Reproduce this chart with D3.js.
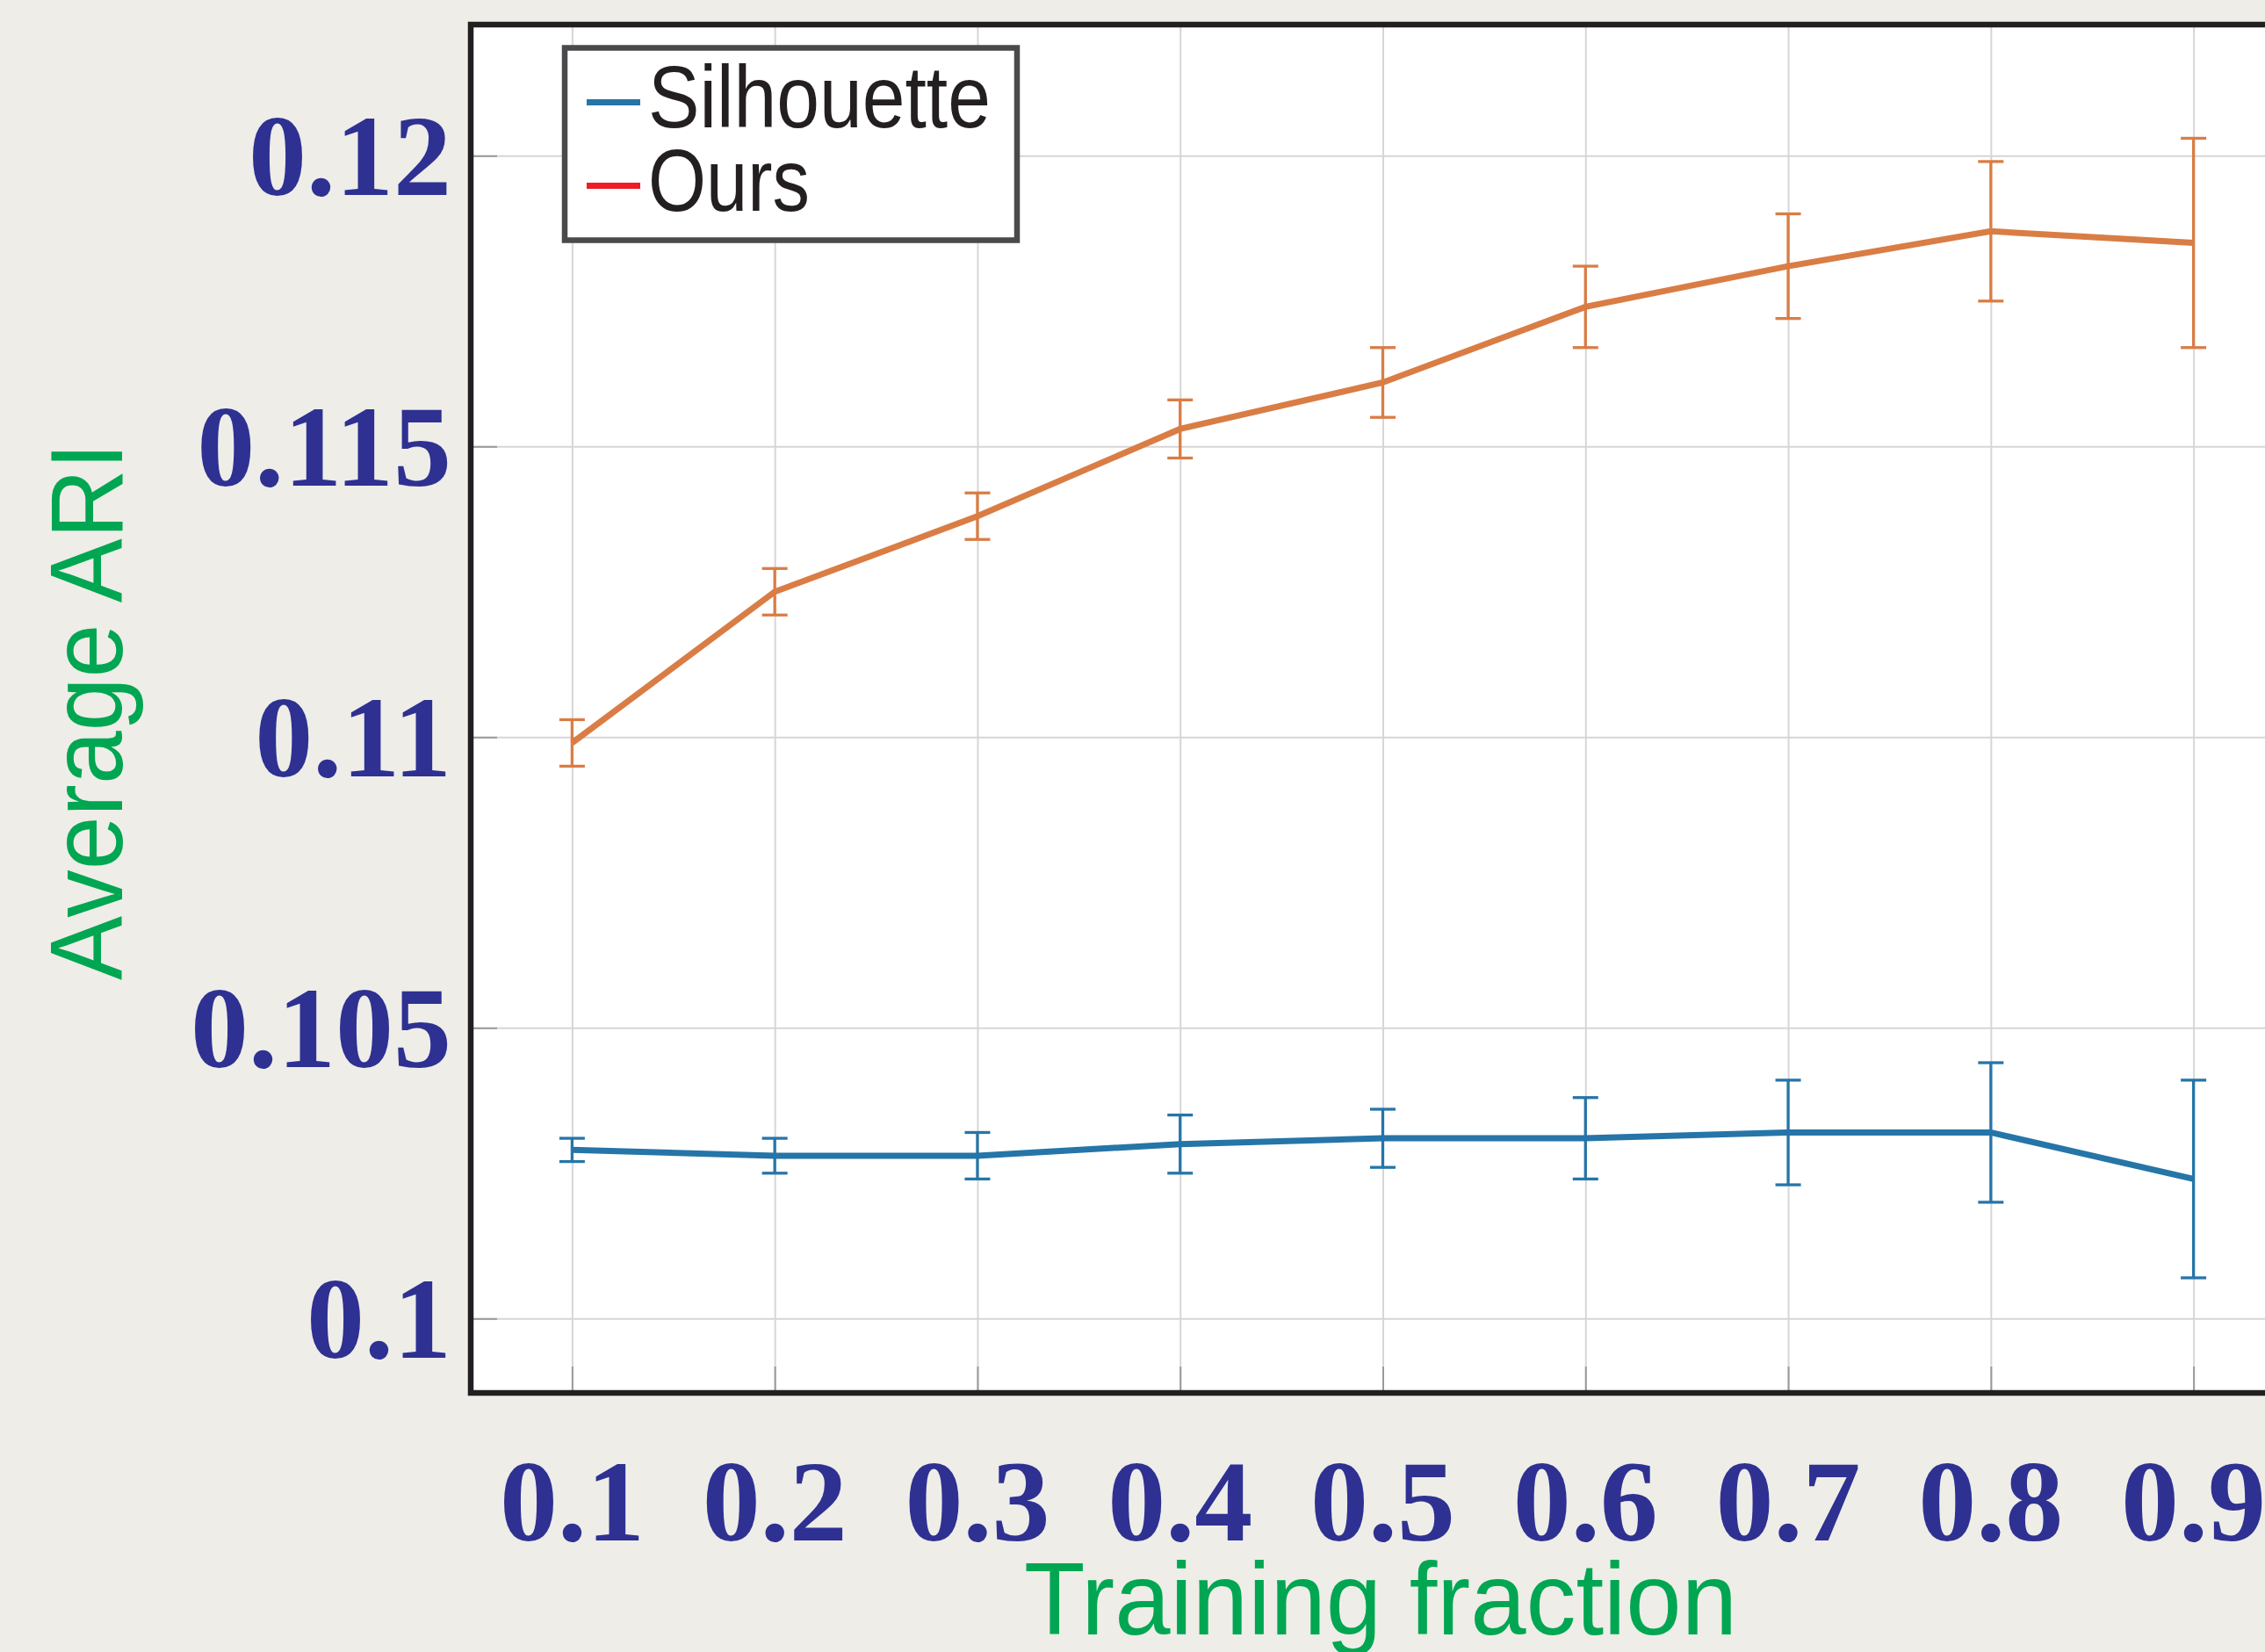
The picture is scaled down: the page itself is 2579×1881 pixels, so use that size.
<!DOCTYPE html>
<html>
<head>
<meta charset="utf-8">
<script src="https://cdn.jsdelivr.net/npm/d3@7"></script>
<style>
  body { margin: 0; background: #eeede8; }
  svg { display: block; }
</style>
</head>
<body>
<div id="chart"></div>
<script>
// data
var fractions = [0.1, 0.2, 0.3, 0.4, 0.5, 0.6, 0.7, 0.8, 0.9];
var silhouette = [0.1029, 0.1028, 0.1028, 0.1030, 0.1031, 0.1031, 0.1032, 0.1032, 0.1024];
var silhouetteErr = [0.0002, 0.0003, 0.0004, 0.0005, 0.0005, 0.0007, 0.0009, 0.0012, 0.0017];
var ours = [0.1099, 0.1125, 0.1138, 0.1153, 0.1161, 0.1174, 0.1181, 0.1187, 0.1185];
var oursErr = [0.0004, 0.0004, 0.0004, 0.0005, 0.0006, 0.0007, 0.0009, 0.0012, 0.0018];
var yTicks = [0.1, 0.105, 0.11, 0.115, 0.12];
var yTickLabels = ["0.1", "0.105", "0.11", "0.115", "0.12"];
var xTickLabels = ["0.1", "0.2", "0.3", "0.4", "0.5", "0.6", "0.7", "0.8", "0.9"];
var seriesNames = ["Silhouette", "Ours"];

// svg params
var svgWidth = 2579;
var svgHeight = 1881;

// plot box (right side runs off the page, like the original)
var plot = { left: 536, top: 28, right: 2640, bottom: 1586 };

var blue = "#2675a8";
var orange = "#d97d45";
var tickBlue = "#2e3192";
var labelGreen = "#00a651";

var svg = d3.select("#chart")
  .append("svg")
  .attr("width", svgWidth)
  .attr("height", svgHeight);

svg.append("rect")
  .attr("width", svgWidth)
  .attr("height", svgHeight)
  .attr("fill", "#eeede8");

// scales
var xScale = d3.scaleLinear()
  .domain([0.05, 0.95])
  .range([plot.left, plot.left + 2077]);

var yScale = d3.scaleLinear()
  .domain([0.1, 0.12])
  .range([1501.3, 177.3]);

// white plot area
svg.append("rect")
  .attr("x", plot.left)
  .attr("y", plot.top)
  .attr("width", plot.right - plot.left)
  .attr("height", plot.bottom - plot.top)
  .attr("fill", "#ffffff");

// grid
var yGrid = svg.append("g")
  .attr("transform", `translate(${plot.left}, 0)`)
  .call(d3.axisLeft(yScale).tickValues(yTicks).tickSize(-(plot.right - plot.left)).tickFormat(""));
var xGrid = svg.append("g")
  .attr("transform", `translate(0, ${plot.bottom})`)
  .call(d3.axisBottom(xScale).tickValues(fractions).tickSize(-(plot.bottom - plot.top)).tickFormat(""));
[yGrid, xGrid].forEach(g => {
  g.select(".domain").remove();
  g.selectAll(".tick line").attr("stroke", "#d6d6d6").attr("stroke-width", 2);
});

// short inner tick marks
var yTickG = svg.append("g")
  .attr("transform", `translate(${plot.left}, 0)`)
  .call(d3.axisLeft(yScale).tickValues(yTicks).tickSize(-30).tickFormat(""));
var xTickG = svg.append("g")
  .attr("transform", `translate(0, ${plot.bottom})`)
  .call(d3.axisBottom(xScale).tickValues(fractions).tickSize(-30).tickFormat(""));
[yTickG, xTickG].forEach(g => {
  g.select(".domain").remove();
  g.selectAll(".tick line").attr("stroke", "#9a9a9a").attr("stroke-width", 2);
});

// lines + error bars
var line = d3.line()
  .x(d => xScale(d.x))
  .y(d => yScale(d.y));

function drawSeries(vals, errs, color) {
  var data = fractions.map((f, i) => ({ x: f, y: vals[i], e: errs[i] }));

  svg.append("path")
    .datum(data)
    .attr("fill", "none")
    .attr("stroke", color)
    .attr("stroke-width", 7)
    .attr("d", line);

  var bars = svg.append("g").selectAll("g")
    .data(data).enter()
    .append("g")
    .attr("stroke", color)
    .attr("stroke-width", 3.3);

  bars.append("line")
    .attr("x1", d => xScale(d.x)).attr("x2", d => xScale(d.x))
    .attr("y1", d => yScale(d.y - d.e)).attr("y2", d => yScale(d.y + d.e));
  bars.append("line")
    .attr("x1", d => xScale(d.x) - 14.5).attr("x2", d => xScale(d.x) + 14.5)
    .attr("y1", d => yScale(d.y + d.e)).attr("y2", d => yScale(d.y + d.e));
  bars.append("line")
    .attr("x1", d => xScale(d.x) - 14.5).attr("x2", d => xScale(d.x) + 14.5)
    .attr("y1", d => yScale(d.y - d.e)).attr("y2", d => yScale(d.y - d.e));
}

drawSeries(silhouette, silhouetteErr, blue);
drawSeries(ours, oursErr, orange);

// frame
svg.append("rect")
  .attr("x", plot.left)
  .attr("y", plot.top)
  .attr("width", plot.right - plot.left)
  .attr("height", plot.bottom - plot.top)
  .attr("fill", "none")
  .attr("stroke", "#231f20")
  .attr("stroke-width", 6.5);

// tick labels
svg.append("g").selectAll("text")
  .data(yTicks).enter()
  .append("text")
  .attr("x", 514)
  .attr("y", d => yScale(d) + 45)
  .attr("text-anchor", "end")
  .attr("font-family", "'Liberation Serif', serif")
  .attr("font-weight", "bold")
  .attr("font-size", 132)
  .attr("fill", tickBlue)
  .text((d, i) => yTickLabels[i]);

svg.append("g").selectAll("text")
  .data(fractions).enter()
  .append("text")
  .attr("x", d => xScale(d))
  .attr("y", 1754)
  .attr("text-anchor", "middle")
  .attr("font-family", "'Liberation Serif', serif")
  .attr("font-weight", "bold")
  .attr("font-size", 132)
  .attr("fill", tickBlue)
  .text((d, i) => xTickLabels[i]);

// axis titles
svg.append("text")
  .attr("x", 1572)
  .attr("y", 1861)
  .attr("text-anchor", "middle")
  .attr("font-family", "'Liberation Sans', sans-serif")
  .attr("font-size", 117)
  .attr("fill", labelGreen)
  .attr("textLength", 812)
  .attr("lengthAdjust", "spacingAndGlyphs")
  .text("Training fraction");

svg.append("text")
  .attr("transform", "translate(139, 810) rotate(-90)")
  .attr("text-anchor", "middle")
  .attr("font-family", "'Liberation Sans', sans-serif")
  .attr("font-size", 117)
  .attr("fill", labelGreen)
  .attr("textLength", 612)
  .attr("lengthAdjust", "spacingAndGlyphs")
  .text("Average ARI");

// legend
var legend = svg.append("g");
legend.append("rect")
  .attr("x", 643)
  .attr("y", 54.5)
  .attr("width", 515)
  .attr("height", 219)
  .attr("fill", "#ffffff")
  .attr("stroke", "#4a4a4c")
  .attr("stroke-width", 6.5);

var legendColors = [blue, "#ee1c25"];
var legendY = [116.5, 211.5];
var legendLen = [390, 184];
seriesNames.forEach((name, i) => {
  legend.append("line")
    .attr("x1", 668).attr("x2", 729)
    .attr("y1", legendY[i]).attr("y2", legendY[i])
    .attr("stroke", legendColors[i])
    .attr("stroke-width", 7);
  legend.append("text")
    .attr("x", 738)
    .attr("y", legendY[i] + 28.5)
    .attr("font-family", "'Liberation Sans', sans-serif")
    .attr("font-size", 100)
    .attr("fill", "#231f20")
    .attr("textLength", legendLen[i])
    .attr("lengthAdjust", "spacingAndGlyphs")
    .text(name);
});
</script>
</body>
</html>
